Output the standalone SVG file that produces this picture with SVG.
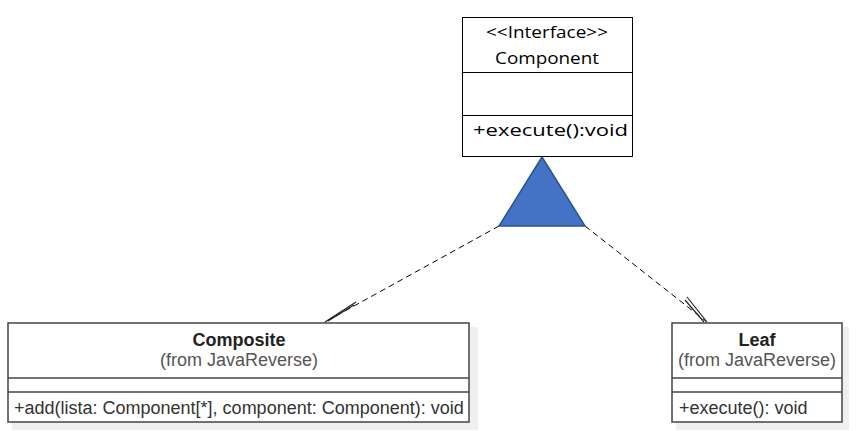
<svg xmlns="http://www.w3.org/2000/svg" width="859" height="431" viewBox="0 0 859 431">
<style>
.box{fill:#fff;stroke:#000;stroke-width:1}
.cls{fill:#fff;stroke:#444;stroke-width:1.5}
.shadow{fill:#efefef}
.div{stroke:#000;stroke-width:1}
.cdiv{stroke:#444;stroke-width:1.5}
.itxt{font-family:"Open Sans","Noto Sans",sans-serif;font-size:17px;fill:#000}
.title{font-family:"Liberation Sans",Arial,sans-serif;font-size:18px;font-weight:bold;fill:#222;text-anchor:middle}
.sub{font-family:"Liberation Sans",Arial,sans-serif;font-size:18px;fill:#555;text-anchor:middle}
.op{font-family:"Liberation Sans",Arial,sans-serif;font-size:18px;fill:#333}
.dash{stroke:#000;stroke-width:1;stroke-dasharray:6,4;fill:none}
.stub{stroke:#222;stroke-width:1.2;fill:none}
</style>
<rect width="859" height="431" fill="#fff"/>
<g id="connectors">
<line class="dash" x1="499" y1="226" x2="325" y2="322"/>
<line class="stub" x1="325" y1="322" x2="356" y2="302"/>
<line class="stub" x1="328" y1="321" x2="354" y2="305"/>
<line class="dash" x1="585" y1="226" x2="707" y2="322"/>
<line class="stub" x1="707" y1="322" x2="687" y2="297"/>
<line class="stub" x1="704" y1="322" x2="685" y2="300"/>
<polygon points="542,157 499,226 585,226" fill="#4472C4" stroke="#2F528F" stroke-width="1.5"/>
</g>
<g id="component">
<rect class="box" x="462.5" y="17.5" width="170" height="139"/>
<line class="div" x1="462.5" y1="72.5" x2="632.5" y2="72.5"/>
<line class="div" x1="462.5" y1="115.5" x2="632.5" y2="115.5"/>
<text class="itxt" x="547" y="38" text-anchor="middle" textLength="122" lengthAdjust="spacingAndGlyphs">&lt;&lt;Interface&gt;&gt;</text>
<text class="itxt" x="547" y="64" text-anchor="middle" textLength="104" lengthAdjust="spacingAndGlyphs">Component</text>
<text class="itxt" x="473" y="136" textLength="155" lengthAdjust="spacingAndGlyphs">+execute():void</text>
</g>
<g id="composite">
<rect class="shadow" x="12" y="327" width="466" height="103"/>
<rect class="cls" x="8" y="323" width="461" height="99"/>
<line class="cdiv" x1="8" y1="378" x2="469" y2="378"/>
<line class="cdiv" x1="8" y1="392" x2="469" y2="392"/>
<text class="title" x="239" y="346">Composite</text>
<text class="sub" x="239" y="366">(from JavaReverse)</text>
<text class="op" x="14" y="414">+add(lista: Component[*], component: Component): void</text>
</g>
<g id="leaf">
<rect class="shadow" x="676" y="327" width="173" height="103"/>
<rect class="cls" x="672" y="323" width="170" height="99"/>
<line class="cdiv" x1="672" y1="378" x2="842" y2="378"/>
<line class="cdiv" x1="672" y1="392" x2="842" y2="392"/>
<text class="title" x="757" y="346">Leaf</text>
<text class="sub" x="757" y="366">(from JavaReverse)</text>
<text class="op" x="679" y="414">+execute(): void</text>
</g>
</svg>
